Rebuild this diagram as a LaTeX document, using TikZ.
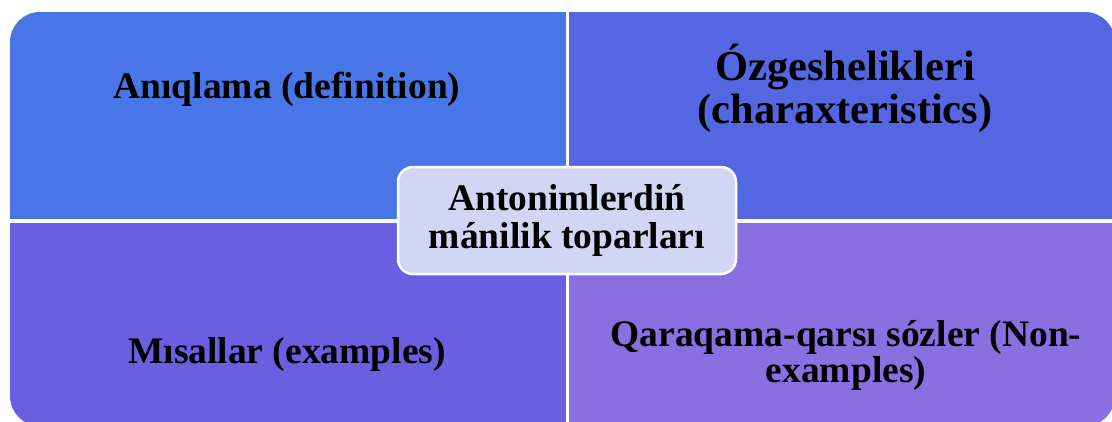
\documentclass[tikz,border=0pt]{standalone}
\usepackage{fontspec}
\setmainfont{Liberation Serif}

\definecolor{defblue}{HTML}{4876E6}
\definecolor{charblue}{HTML}{5566E3}
\definecolor{exmpviolet}{HTML}{6A5FE0}
\definecolor{nonexviolet}{HTML}{8A6FE0}
\definecolor{corefill}{HTML}{D0D6F4}

\begin{document}
\begin{tikzpicture}[x=1pt,y=-1pt,
    lbl/.style={font=\bfseries\fontsize{37.5}{39}\selectfont, align=center, inner sep=0pt, anchor=base},
    core/.style={draw=white, line width=2.5pt, fill=corefill, rounded corners=15pt,
        minimum width=338pt, minimum height=107pt, inner sep=0pt, align=center,
        font=\bfseries\fontsize{37.5}{38.5}\selectfont}]

    \useasboundingbox (0,0) rectangle (1112,421);

    % Quadrants
    \begin{scope}
        \clip[rounded corners=30pt] (10,12) rectangle (1115,426);
        \fill[defblue] (10,12) rectangle (566,219);
        \fill[charblue] (569,12) rectangle (1115,219);
        \fill[exmpviolet] (10,223) rectangle (566,426);
        \fill[nonexviolet] (569,223) rectangle (1115,426);
    \end{scope}

    % Labels
    \node[lbl] (defn) at (287,98) {Anıqlama (definition)};
    \node[lbl, font=\bfseries\fontsize{42.5}{43}\selectfont] (chars) at (845,123) {Ózgeshelikleri\\(charaxteristics)};
    \node[lbl] (exmp) at (287,363) {Mısallar (examples)};
    \node[lbl, font=\bfseries\fontsize{37.5}{35.5}\selectfont] (nonex) at (846,382) {Qaraqama-qarsı sózler (Non-\\examples)};

    % Centre
    \node[core] (topic) at (567,220.5) {Antonimlerdiń\\mánilik toparları};

\end{tikzpicture}
\end{document}
